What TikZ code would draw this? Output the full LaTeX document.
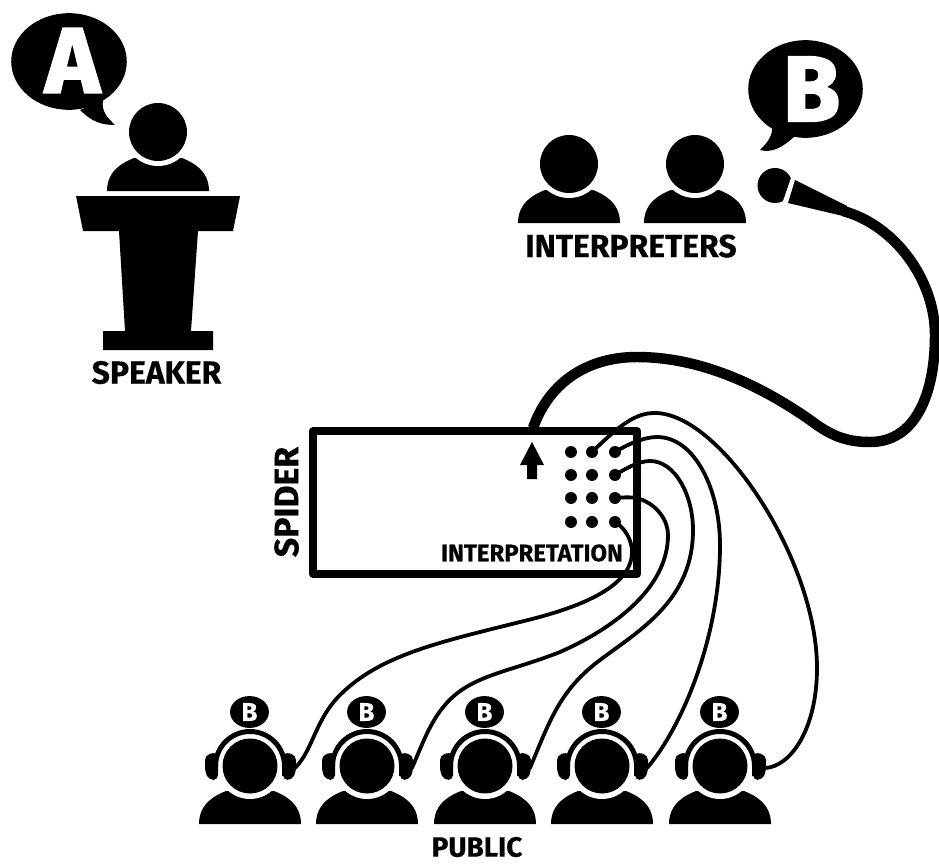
\documentclass[tikz,border=0pt]{standalone}
\usepackage{fontspec}
\setmainfont{Fira Sans}
\newfontfamily\heavyfont{Fira Sans}[BoldFeatures={FakeBold=2.4}]
\newfontfamily\labelfont{Fira Sans}[BoldFeatures={FakeBold=0.4}]
\usetikzlibrary{shapes.geometric}
\tikzset{
  x=1bp,y=-1bp,
  bust/.pic={
    \fill (-24,26) .. controls (-34,30) and (-51,38) .. (-51,59) -- (51,59)
      .. controls (51,38) and (34,30) .. (24,26) -- cycle;
    \fill[white] (0,0) circle[radius=34];
    \fill (0,0) circle[radius=29];
  },
  listener/.pic={
    \fill (-24,25) .. controls (-34,29) and (-51,37) .. (-51,58) -- (51,58)
      .. controls (51,37) and (34,29) .. (24,25) -- cycle;
    \fill[white] (0,0) circle[radius=33];
    \fill (0,0) circle[radius=27.5];
    \draw[line width=5] (-34.5,10) -- (-34.5,0) arc[start angle=180,end angle=360,radius=34.5] -- (34.5,10);
    \fill[rounded corners=5] (-45,-11) -- (-32,-14) -- (-32,14) -- (-41,14) -- (-45,6) -- cycle;
    \fill[rounded corners=5] (46,-11) -- (33,-14) -- (33,14) -- (42,14) -- (46,6) -- cycle;
    \node[ellipse,fill=black,minimum width=39,minimum height=32,inner sep=0,text=white] (-badge) at (-0.5,-54)
      {\fontsize{26}{26}\selectfont\labelfont\bfseries B};
    \coordinate (-ear) at (45,2);
  },
  lbl/.style={inner sep=0,font=\labelfont\bfseries},
  cable/.style={line width=3.8,line cap=round},
  thickcable/.style={line width=10.5},
  jack/.style={circle,fill=black,minimum size=12,inner sep=0},
}
\begin{document}
\begin{tikzpicture}
\useasboundingbox (0,0) rectangle (939,864);

% speech bubble A
\fill (80,110) .. controls (92,122) and (102,125) .. (115,125)
  .. controls (108,118) and (101,112) .. (103,100) -- cycle;
\node[ellipse,fill=black,minimum width=116,minimum height=97,inner sep=0,text=white] (bubbleA) at (69,61.5)
  {\hspace*{7bp}\raisebox{2bp}{\fontsize{93}{93}\selectfont\heavyfont\bfseries A}};

% speaker
\pic (speaker) at (158,132) {bust};
\fill (76,196) -- (240,196) -- (233,231) -- (198,231) -- (191,331) -- (213,331) -- (213,350)
  -- (103,350) -- (103,331) -- (125,331) -- (119,231) -- (83,231) -- cycle;
\node[lbl] (speakerlabel) at (156.5,372.5) {\fontsize{32}{32}\selectfont SPEAKER};

% interpreters
\pic (intA) at (569,164) {bust};
\pic (intB) at (695,164) {bust};
\node[lbl] (interplabel) at (631,246) {\fontsize{32}{32}\selectfont INTERPRETERS};

% speech bubble B
\fill (772,126) .. controls (773,136) and (767,143) .. (760,150)
  .. controls (772,153) and (782,148) .. (795,136) -- cycle;
\node[ellipse,fill=black,minimum width=115,minimum height=98,inner sep=0,text=white] (bubbleB) at (805.5,89)
  {\hspace*{12bp}\fontsize{93}{93}\selectfont\heavyfont\bfseries B};

% spider box
\node[draw,line width=8,line join=round,minimum width=326,minimum height=143,inner sep=0] (spider) at (475,502.5) {};
\node[lbl,rotate=90] (spiderlabel) at (286.5,502) {\fontsize{34}{34}\selectfont SPIDER};
\node[lbl] (interpretation) at (532,553) {\fontsize{24}{24}\selectfont INTERPRETATION};

% arrow
\fill (532,442) -- (544,465) -- (537,465) -- (537,479) -- (527,479) -- (527,465) -- (520,465) -- cycle;

% jacks
\node[jack] (j11) at (571,452) {};
\node[jack] (j12) at (592,452) {};
\node[jack] (j13) at (615,452) {};
\node[jack] (j21) at (571,475) {};
\node[jack] (j22) at (592,475) {};
\node[jack] (j23) at (615,475) {};
\node[jack] (j31) at (571,498) {};
\node[jack] (j32) at (592,498) {};
\node[jack] (j33) at (615,498) {};
\node[jack] (j41) at (571,522) {};
\node[jack] (j42) at (592,522) {};
\node[jack] (j43) at (615,522) {};

% public
\pic (p1) at (250,766) {listener};
\pic (p2) at (367,766) {listener};
\pic (p3) at (485,766) {listener};
\pic (p4) at (602,766) {listener};
\pic (p5) at (720,766) {listener};
\node[lbl] (publiclabel) at (477,847) {\fontsize{28}{28}\selectfont PUBLIC};

% cables to listeners
\draw[cable] (j12.center) .. controls (620,425) and (635,413) .. (655,413)
  .. controls (720,413) and (817,560) .. (817,668)
  .. controls (817,730) and (790,767) .. (p5-ear);
\draw[cable] (j13.center) .. controls (630,443) and (645,437) .. (657,437)
  .. controls (695,437) and (720,490) .. (720,545)
  .. controls (720,640) and (680,730) .. (p4-ear);
\draw[cable] (j23.center) .. controls (628,467) and (640,461) .. (650,461)
  .. controls (675,461) and (693,495) .. (693,530)
  .. controls (693,600) and (640,630) .. (600,660)
  .. controls (560,690) and (550,720) .. (p3-ear);
\draw[cable] (j33.center) .. controls (625,497) and (635,497) .. (640,499)
  .. controls (657,505) and (668,520) .. (668,535)
  .. controls (668,590) and (610,630) .. (560,652)
  .. controls (510,672) and (470,675) .. (445,705)
  .. controls (430,722) and (422,745) .. (p2-ear);
\draw[cable] (j43.center) .. controls (625,528) and (632,540) .. (632,552)
  .. controls (632,590) and (570,610) .. (520,622)
  .. controls (440,642) and (380,655) .. (340,695)
  .. controls (315,720) and (313,750) .. (p1-ear);

% microphone
\fill (775,185.5) circle[radius=17.5];
\fill[white] (792,175) -- (782,204) -- (800,204) -- (800,172) -- cycle;
\coordinate (micend) at (843,211);
\fill (795,180) -- (847,206) -- (843,216) -- (788,203) -- cycle;
\coordinate (spidertop) at (533,428);
\draw[thickcable] (spidertop) .. controls (550,380) and (590,357) .. (637,357)
  .. controls (700,357) and (760,385) .. (810,420)
  .. controls (830,435) and (845,442) .. (870,442)
  .. controls (915,442) and (935,395) .. (935,335)
  .. controls (935,280) and (895,225) .. (micend);
\end{tikzpicture}
\end{document}
